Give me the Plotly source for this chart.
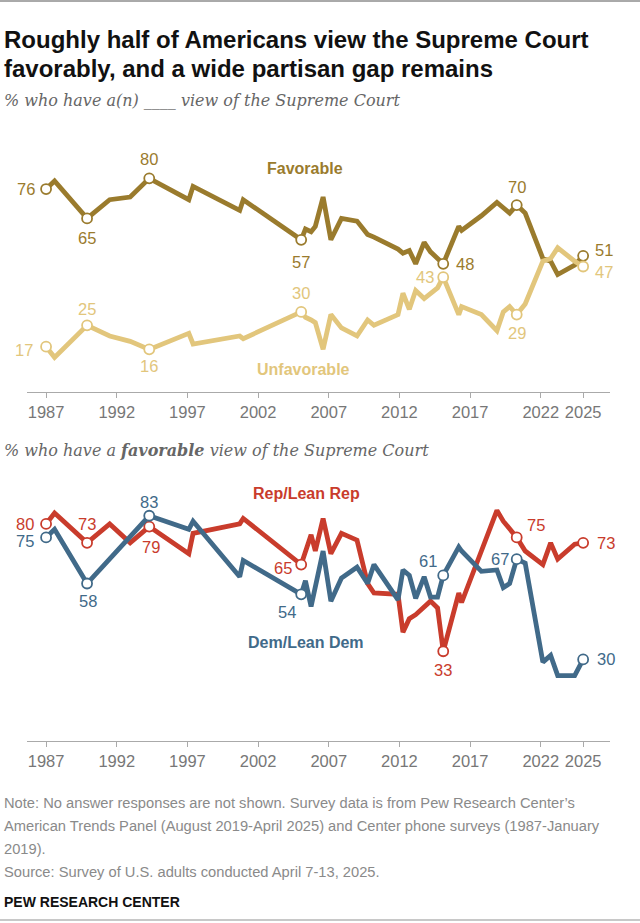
import plotly.graph_objects as go

# survey dates (decimal years), shared by all four series
YEARS = [1987.0, 1987.6, 1989.9, 1991.5, 1992.95, 1994.3, 1997.1, 1997.4, 2000.7, 2000.95,
         2005.05, 2005.35, 2005.75, 2006.05, 2006.6, 2007.15, 2007.9, 2009.0, 2009.75, 2010.2,
         2011.9, 2012.25, 2012.7, 2013.15, 2013.75, 2014.2, 2014.7, 2015.1,
         2016.2, 2016.4, 2017.8, 2018.9, 2019.35, 2019.8, 2020.3, 2020.9,
         2022.15, 2022.7, 2023.2, 2024.4, 2025.0]

FAVORABLE = [76, 79, 65, 72, 73, 80, 72, 77, 68, 72,
             57, 61, 60, 62, 73, 57, 65, 64, 59, 58,
             53.5, 52, 53, 48, 56, 52.5, 50, 48,
             62, 60.5, 66, 71, 69, 67, 70, 67,
             50, 49, 44, 47.5, 51]
UNFAVORABLE = [17, 13, 25, 21, 19, 16, 22, 18, 21, 20,
               30, 28, 27, 26, 16, 29, 24, 21, 27, 25,
               29, 37, 31, 38, 35, 37, 39, 43,
               29, 32, 29, 23, 30, 32, 29, 33,
               49, 50, 54, 49, 47]
REP_LEAN = [80, 84, 73, 80, 73, 79, 69, 76.5, 80, 82,
            65, 70, 76, 70, 82, 69, 76.5, 74, 58, 54.5,
            54, 40, 45, 46.5, 49.5, 51.5, 49, 33,
            54.5, 51, 70, 85, 81, 78, 75, 70,
            65, 73, 67, 72.5, 73]
DEM_LEAN = [75, 78, 58, 67, 75.5, 83, 78, 81, 60.5, 66.5,
            54, 59, 49.5, 57, 70, 51.5, 60, 64, 58, 65,
            52, 63, 61, 52.5, 60.5, 53, 53, 61,
            71.5, 70, 62.5, 63, 56.5, 58, 67, 65.5,
            29, 31.5, 24, 24, 30]

TICK_YEARS = [1987, 1992, 1997, 2002, 2007, 2012, 2017, 2022, 2025]
LABELED = [0, 2, 5, 10, 27, 34, 40]  # points that get a circle and a value label

C_FAV = "#9a7b2d"
C_UNFAV = "#e2c67c"
C_REP = "#c93c2c"
C_DEM = "#416a89"

W, H = 640, 923


def py(px):
    # pixel row from the top -> paper y
    return 1 - px / H


fig = go.Figure()

# (values, color, axis suffix, label offsets in px for each labeled point)
series = [
    (FAVORABLE, C_FAV, "", [(-20, 0), (0, -20), (0, 19), (0, -22), (22, 0), (0, 18), (21, 6)]),
    (UNFAVORABLE, C_UNFAV, "", [(-22, -3), (0, 16), (0, -17), (0, 19), (-18, 0), (0, -18), (21, -5)]),
    (REP_LEAN, C_REP, "2", [(-21, 0), (0, 19), (2, -20), (-18, -3), (0, -19), (19, 12), (23, 0)]),
    (DEM_LEAN, C_DEM, "2", [(-21, -4), (1, -17), (0, 14), (-14, -18), (-15, 14), (-17, 0), (23, 0)]),
]

for values, color, ax, offsets in series:
    fig.add_trace(go.Scatter(
        x=YEARS, y=values, mode="lines",
        line=dict(color=color, width=4.8),
        xaxis="x" + ax, yaxis="y" + ax, hoverinfo="skip", showlegend=False,
    ))
    fig.add_trace(go.Scatter(
        x=[YEARS[i] for i in LABELED], y=[values[i] for i in LABELED],
        mode="markers",
        marker=dict(size=10, color="white", line=dict(color=color, width=1.8)),
        xaxis="x" + ax, yaxis="y" + ax, hoverinfo="skip", showlegend=False,
    ))
    for i, (dx, dy) in zip(LABELED, offsets):
        fig.add_annotation(
            x=YEARS[i], y=values[i], xref="x" + ax, yref="y" + ax,
            text=str(int(round(values[i]))), showarrow=False,
            xshift=dx, yshift=dy,
            font=dict(family="Liberation Sans", size=16.5, color=color),
        )

# series names
for text, x, y, color, ax in [
    ("Favorable", 2005.3, 83.5, C_FAV, ""),
    ("Unfavorable", 2005.2, 8.3, C_UNFAV, ""),
    ("Rep/Lean Rep", 2005.4, 91.4, C_REP, "2"),
    ("Dem/Lean Dem", 2005.4, 36.4, C_DEM, "2"),
]:
    fig.add_annotation(
        x=x, y=y, xref="x" + ax, yref="y" + ax, text=f"<b>{text}</b>",
        showarrow=False, font=dict(family="Liberation Sans", size=16, color=color),
    )

# title, subtitles, notes
def paper_text(text, px_y, size, color, family="Liberation Sans"):
    fig.add_annotation(
        x=2 / W, y=py(px_y), xref="paper", yref="paper", xanchor="left", yanchor="middle",
        text=text, showarrow=False, font=dict(family=family, size=size, color=color),
    )

paper_text("<b>Roughly half of Americans view the Supreme Court</b>", 40, 24, "#111")
paper_text("<b>favorably, and a wide partisan gap remains</b>", 68, 24, "#111")
paper_text("<i>% who have a(n) ____ view of the Supreme Court</i>", 101, 16, "#666", "DejaVu Serif")
paper_text("<i>% who have a <b>favorable</b> view of the Supreme Court</i>", 450, 16, "#666", "DejaVu Serif")

notes = [
    "Note: No answer responses are not shown. Survey data is from Pew Research Center\u2019s",
    "American Trends Panel (August 2019-April 2025) and Center phone surveys (1987-January",
    "2019).",
    "Source: Survey of U.S. adults conducted April 7-13, 2025.",
]
for k, line in enumerate(notes):
    paper_text(line, 803 + 23 * k, 14.7, "#8a8a8a")
paper_text("<b>PEW RESEARCH CENTER</b>", 902, 14, "#111")

axis_x = dict(
    range=[1985.65, 2026.9], domain=[27 / W, 610 / W],
    tickvals=TICK_YEARS, ticktext=[str(t) for t in TICK_YEARS],
    ticks="outside", ticklen=5, tickcolor="#aaa", showline=True, linecolor="#aaa",
    showgrid=False, zeroline=False, fixedrange=True,
    tickfont=dict(family="Liberation Sans", size=16.5, color="#777"),
)
axis_y = dict(range=[0, 100], visible=False, showgrid=False, zeroline=False, fixedrange=True)

fig.update_layout(
    width=W, height=H,
    margin=dict(l=0, r=0, t=0, b=0),
    paper_bgcolor="white", plot_bgcolor="white",
    hovermode=False,
    xaxis=dict(axis_x, anchor="y"),
    yaxis=dict(axis_y, domain=[py(392.1), py(124.9)], anchor="x"),
    xaxis2=dict(axis_x, anchor="y2"),
    yaxis2=dict(axis_y, domain=[py(740.7), py(469.7)], anchor="x2"),
    shapes=[
        dict(type="line", xref="paper", yref="paper", x0=0, x1=1, y0=py(1), y1=py(1),
             line=dict(color="#555", width=1)),
        dict(type="line", xref="paper", yref="paper", x0=0, x1=1, y0=py(920), y1=py(920),
             line=dict(color="#c8c8c8", width=2)),
    ],
)

# drop the browser's default body margin so the figure sits at the page corner
fig.write_html(
    "out.html",
    config={"displayModeBar": False},
    post_script="document.body.style.margin = '0px';",
)
